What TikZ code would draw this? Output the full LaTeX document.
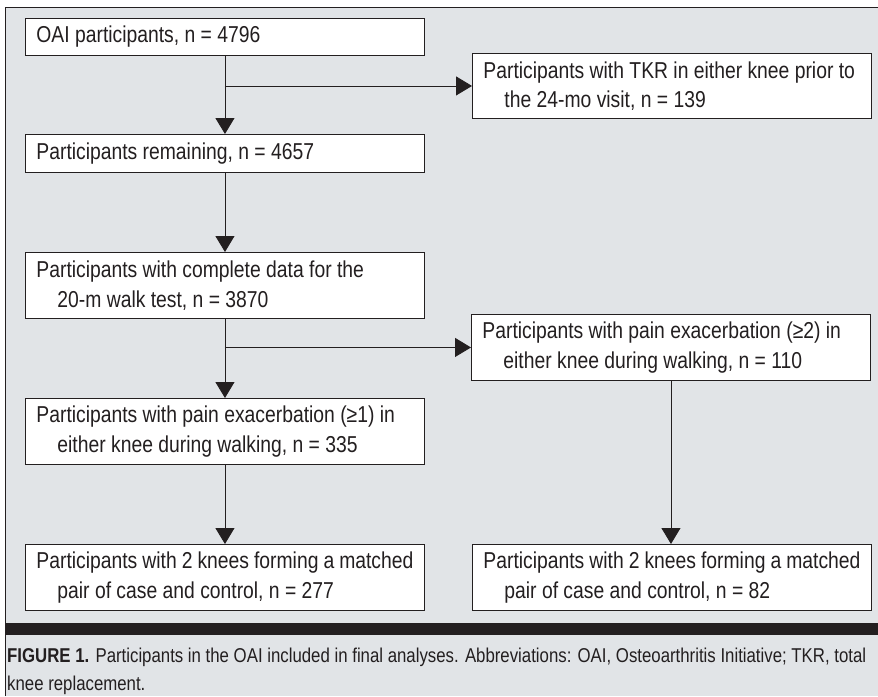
\documentclass[tikz,border=0pt]{standalone}
\usepackage{fontspec}
\setmainfont{Liberation Sans}[FakeStretch=0.84]
\usetikzlibrary{arrows.meta}
\definecolor{panel}{HTML}{E1E4E7}
\definecolor{ink}{HTML}{231F20}
\tikzset{
  flowbox/.style={draw=ink, fill=white, line width=0.9pt, anchor=north west,
    inner xsep=11pt, inner ysep=0pt, minimum width=399pt, text width=377pt,
    align=flush left, font=\fontsize{23}{29.5}\selectfont, text=ink},
  flowarrow/.style={draw=ink, line width=0.9pt, -{Triangle[length=16pt,width=19pt]}},
  captext/.style={anchor=base west, inner sep=0pt, font=\fontsize{20}{24}\selectfont, text=ink}
}
\newcommand{\ind}{\hspace*{21pt}}
\begin{document}
\begin{tikzpicture}[x=1pt,y=-1pt]
\useasboundingbox (0,0) rectangle (878,696);
\fill[panel] (5,7) rectangle (878,696);
\draw[ink, line width=0.9pt] (5,696) -- (5,7) -- (878,7);
\fill[ink] (5,623) rectangle (878,635);

\node[flowbox, minimum height=37pt] (oai) at (25,18) {OAI participants, n = 4796};
\node[flowbox, minimum height=65pt] (tkr) at (472,53) {Participants with TKR in either knee prior to\\\ind the 24-mo visit, n = 139};
\node[flowbox, minimum height=38pt] (rem) at (25,134) {Participants remaining, n = 4657};
\node[flowbox, minimum height=66pt] (comp) at (25,252) {Participants with complete data for the\\\ind 20-m walk test, n = 3870};
\node[flowbox, minimum height=66pt] (p2) at (471,314) {Participants with pain exacerbation (≥2) in\\\ind either knee during walking, n = 110};
\node[flowbox, minimum height=66pt] (p1) at (25,398) {Participants with pain exacerbation (≥1) in\\\ind either knee during walking, n = 335};
\node[flowbox, minimum height=66pt] (b1) at (25,544) {Participants with 2 knees forming a matched\\\ind pair of case and control, n = 277};
\node[flowbox, minimum height=66pt] (b2) at (472,544) {Participants with 2 knees forming a matched\\\ind pair of case and control, n = 82};

\coordinate (j1) at (oai.south |- tkr.west);
\coordinate (j2) at (comp.south |- p2.west);

\draw[flowarrow] (oai.south) -- (rem.north);
\draw[flowarrow] (j1) -- (tkr.west);
\draw[flowarrow] (rem.south) -- (comp.north);
\draw[flowarrow] (comp.south) -- (p1.north);
\draw[flowarrow] (j2) -- (p2.west);
\draw[flowarrow] (p1.south) -- (b1.north);
\draw[flowarrow] (p2.south) -- (p2.south |- b2.north);

\node[captext] (cap1) at (7,662) {\textbf{FIGURE 1.} Participants in the OAI included in final analyses. Abbreviations: OAI, Osteoarthritis Initiative; TKR, total};
\node[captext] (cap2) at (7,690) {knee replacement.};
\end{tikzpicture}
\end{document}
